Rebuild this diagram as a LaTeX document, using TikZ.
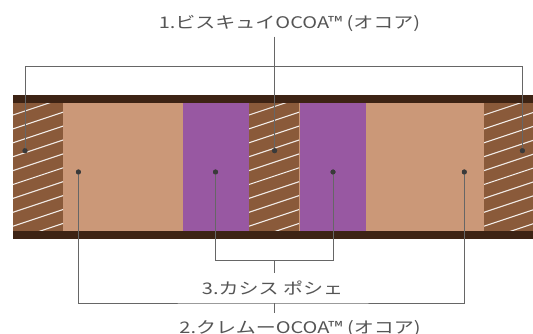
\documentclass[tikz,border=0pt]{standalone}
\usepackage{fontspec}
\newfontfamily\jp[FakeStretch=1.25]{Noto Sans CJK JP}
\definecolor{bandc}{HTML}{3D2314}
\definecolor{hatchc}{HTML}{8A5A3A}
\definecolor{tanc}{HTML}{CB9878}
\definecolor{purpc}{HTML}{9858A2}
\definecolor{linec}{HTML}{666666}
\definecolor{dotc}{HTML}{3A3A3A}
\definecolor{txtc}{HTML}{555555}
\definecolor{hlc}{HTML}{F2ECE8}
\begin{document}
\begin{tikzpicture}[x=1pt,y=-1pt,
  lbl/.style={font=\jp\fontsize{16}{19}\selectfont, text=txtc, inner sep=0pt},
  dot/.style={circle, fill=dotc, inner sep=0pt, minimum size=5pt},
  conn/.style={draw=linec, line width=0.9pt},
  hatchline/.style={draw=hlc, line width=1.1pt}]
\useasboundingbox (0,0) rectangle (533,334);
\fill[white] (0,0) rectangle (533,334);
% columns
\fill[hatchc] (13,102.7) rectangle (63,231);
\fill[tanc] (63,102.7) rectangle (183,231);
\fill[purpc] (183,102.7) rectangle (249,231);
\fill[hatchc] (249,102.7) rectangle (299,231);
\fill[tanc] (299,102.7) rectangle (300,231);
\fill[purpc] (300,102.7) rectangle (366,231);
\fill[tanc] (366,102.7) rectangle (484,231);
\fill[hatchc] (484,102.7) rectangle (533,231);
% hatching
\foreach \xa/\xb in {13/63,249/299,484/533}{
  \begin{scope}
    \clip (\xa,102.7) rectangle (\xb,231);
    \foreach \k in {-1,...,10}{
      \draw[hatchline] (\xa,115+\k*13.9) -- ++(60,-20);
    }
  \end{scope}
}
% bands
\fill[bandc] (13,95) rectangle (533,102.7);
\fill[bandc] (13,231) rectangle (533,238.5);
% dots
\node[dot] (dA) at (25,150.7) {};
\node[dot] (dB) at (274.6,150.7) {};
\node[dot] (dC) at (522.4,150.7) {};
\node[dot] (eA) at (78.4,172) {};
\node[dot] (eB) at (464.3,172) {};
\node[dot] (pA) at (215.5,172) {};
\node[dot] (pB) at (333,172) {};
% labels
\node[lbl, anchor=base] (t1) at (289.5,29) {1.ビスキュイOCOA™ (オコア)};
\node[lbl, anchor=base] (t3) at (272.5,294) {3.カシス ポシェ};
\node[lbl, anchor=base] (t2) at (300,333) {2.クレムーOCOA™ (オコア)};
% junctions
\coordinate (j1) at (274.6,66.3);
\coordinate (s1) at (274.6,36.7);
\coordinate (j3) at (274.6,260.6);
\coordinate (s3) at (274.6,272.5);
\coordinate (j2) at (274.6,303);
\coordinate (s2) at (274.6,313);
% connectors
\draw[conn] (dA.center) |- (j1) -| (dC.center);
\draw[conn] (s1) -- (dB.center);
\draw[conn] (pA.center) |- (j3) -| (pB.center);
\draw[conn] (j3) -- (s3);
\draw[conn] (eA.center) |- (j2) -| (eB.center);
\draw[conn] (j2) -- (s2);
% redraw dots on top
\foreach \n in {dA,dB,dC,eA,eB,pA,pB}{\fill[dotc] (\n) circle (2.5pt);}
\end{tikzpicture}
\end{document}
